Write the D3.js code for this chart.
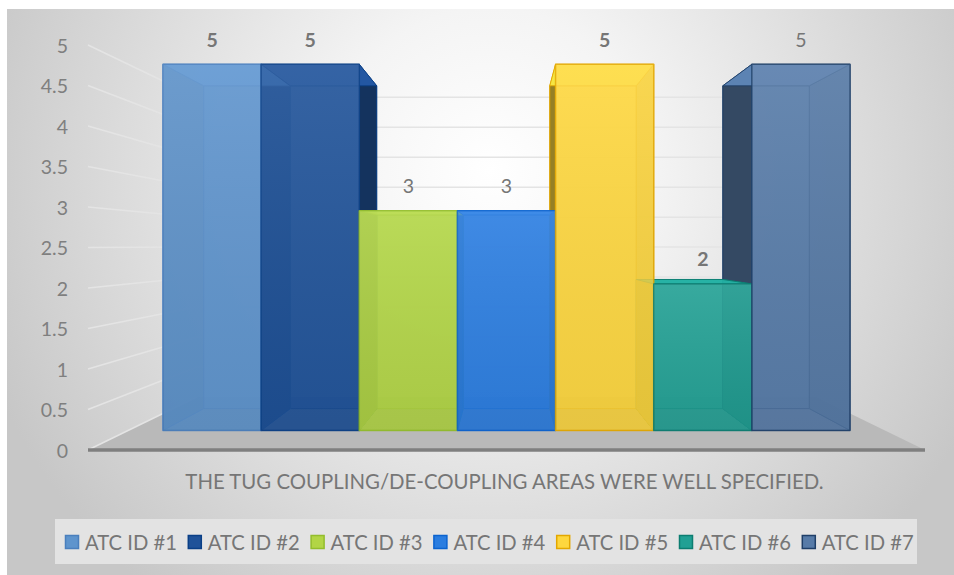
<!DOCTYPE html>
<html>
<head>
<meta charset="utf-8">
<script src="https://cdn.jsdelivr.net/npm/d3@7/dist/d3.min.js"></script>
<style>
  html, body { margin: 0; padding: 0; background: #ffffff; }
  svg { display: block; }
</style>
</head>
<body>
<svg id="chart" width="954" height="575"></svg>
<script>
// ---- data ----
const categories = ["ATC ID #1", "ATC ID #2", "ATC ID #3", "ATC ID #4", "ATC ID #5", "ATC ID #6", "ATC ID #7"];
const values = [5, 5, 3, 3, 5, 2, 5];
const labelBold = [true, true, false, false, true, true, false];
const colors = ["#5e94cd", "#1f5299", "#b2d545", "#2a7de0", "#fed73e", "#21a094", "#577ba8"];
const borders = ["#4a7fbd", "#0a3f86", "#93bd2c", "#0b63cf", "#e3a700", "#0c7d71", "#1f3f68"];
const yTicks = [0, 0.5, 1, 1.5, 2, 2.5, 3, 3.5, 4, 4.5, 5];
const axisTitle = "THE TUG COUPLING/DE-COUPLING AREAS WERE WELL SPECIFIED.";

// ---- layout / projection ----
const svg = d3.select("#chart");
const W = 954, H = 575;
const vx = 506.5, vy = 246;          // vanishing point
const sFront = 0.904, sBack = 0.797, sWall = 0.74;
const wallL = 88, wallR = 925;
const P = (x, y, s) => [vx + (x - vx) * s, vy + (y - vy) * s];

const x = d3.scaleBand().domain(categories).range([126.5, 886.5]).padding(0);
const y = d3.scaleLinear().domain([0, 5]).range([450, 45]);

const font = "Lato, 'Open Sans', sans-serif";
const defs = svg.append("defs");
const rg = defs.append("radialGradient").attr("id", "bg")
  .attr("gradientUnits", "userSpaceOnUse")
  .attr("cx", 490).attr("cy", 170).attr("r", 540);
rg.append("stop").attr("offset", "0").attr("stop-color", "#ffffff");
rg.append("stop").attr("offset", "0.3").attr("stop-color", "#f4f4f4");
rg.append("stop").attr("offset", "1").attr("stop-color", "#c7c7c7");

const fg = defs.append("linearGradient").attr("id", "frontShade")
  .attr("x1", 0).attr("y1", 0).attr("x2", 0).attr("y2", 1);
fg.append("stop").attr("offset", "0").attr("stop-color", "#ffffff").attr("stop-opacity", 0.08);
fg.append("stop").attr("offset", "1").attr("stop-color", "#000000").attr("stop-opacity", 0.06);

// background
svg.append("rect").attr("x", 7).attr("y", 9).attr("width", W - 7).attr("height", H - 9)
  .attr("fill", "url(#bg)");

const line = d3.line();
const poly = pts => "M" + pts.map(p => p.join(",")).join("L") + "Z";

// floor
svg.append("path")
  .attr("d", poly([P(wallL, y(0), 1), P(wallR, y(0), 1), P(wallR, y(0), sWall), P(wallL, y(0), sWall)]))
  .attr("fill", "#b9b9b9");

// gridlines (left wall + back wall)
const grid = svg.append("g").attr("stroke", "#e4e4e4").attr("stroke-width", 1.5).attr("fill", "none");
yTicks.forEach(v => {
  grid.append("path").attr("d", line([P(wallL, y(v), 1), P(wallL, y(v), sWall)]));
  if (v > 0) grid.append("path").attr("d", line([P(wallL, y(v), sWall), P(wallR, y(v), sWall)]));
});

// floor front edge
svg.append("path").attr("d", line([P(wallL, y(0), 1), P(wallR, y(0), 1)]))
  .attr("stroke", "#7f7f7f").attr("stroke-width", 3.5).attr("fill", "none");

// y axis labels
svg.append("g").selectAll("text").data(yTicks).join("text")
  .attr("x", 68).attr("y", d => y(d))
  .attr("text-anchor", "end").attr("dominant-baseline", "central")
  .attr("font-family", font).attr("font-size", 19.5).attr("fill", "#7f7f7f")
  .text(d => d3.format("")(d));

// ---- bars ----
const bars = categories.map((c, i) => {
  const x0 = x(c), x1 = x(c) + x.bandwidth();
  const yt = y(values[i]), yb = y(0);
  const cx = (x0 + x1) / 2;
  return { i, x0, x1, yt, yb, center: cx, color: colors[i], border: borders[i] };
});
const faceFront = b => [P(b.x0, b.yt, sFront), P(b.x1, b.yt, sFront), P(b.x1, b.yb, sFront), P(b.x0, b.yb, sFront)];
const faceBack = b => [P(b.x0, b.yt, sBack), P(b.x1, b.yt, sBack), P(b.x1, b.yb, sBack), P(b.x0, b.yb, sBack)];
const faceSide = (b, xx) => [P(xx, b.yt, sFront), P(xx, b.yt, sBack), P(xx, b.yb, sBack), P(xx, b.yb, sFront)];
const faceH = (b, yy) => [P(b.x0, yy, sFront), P(b.x1, yy, sFront), P(b.x1, yy, sBack), P(b.x0, yy, sBack)];

const gBars = svg.append("g");
function face(pts, fill, op, stroke, sw) {
  gBars.append("path").attr("d", poly(pts)).attr("fill", fill).attr("fill-opacity", op)
    .attr("stroke", stroke).attr("stroke-width", sw).attr("stroke-opacity", 0.85).attr("stroke-linejoin", "round");
}
// back faces
bars.forEach(b => face(faceBack(b), b.color, 0.85, b.border, 1));
// bottoms
bars.forEach(b => face(faceH(b, b.yb), d3.color(b.color).darker(0.3), 0.6, b.border, 1));
// exterior sides (face the viewer centre)
bars.forEach(b => {
  if (b.center < vx - 1) face(faceSide(b, b.x1), d3.color(b.color).darker(1.5), 0.95, b.border, 1);
  else if (b.center > vx + 1) face(faceSide(b, b.x0), d3.color(b.color).darker(1.6), 0.95, b.border, 1);
});
// interior sides (seen through the front face)
bars.forEach(b => {
  if (b.center < vx - 1) face(faceSide(b, b.x0), d3.color(b.color).darker(0.4), 0.85, b.border, 1);
  else if (b.center > vx + 1) face(faceSide(b, b.x1), d3.color(b.color).darker(0.4), 0.85, b.border, 1);
  else { face(faceSide(b, b.x0), d3.color(b.color).darker(0.4), 0.85, b.border, 1);
         face(faceSide(b, b.x1), d3.color(b.color).darker(0.4), 0.85, b.border, 1); }
});
// tops
bars.forEach(b => face(faceH(b, b.yt), d3.color(b.color).brighter(0.3), 0.9, b.border, 1));
// fronts
bars.forEach(b => {
  face(faceFront(b), b.color, 0.82, b.border, 1.5);
  gBars.append("path").attr("d", poly(faceFront(b))).attr("fill", "url(#frontShade)");
});

// data labels
svg.append("g").selectAll("text").data(bars).join("text")
  .attr("x", b => P(b.center, b.yt, sFront)[0])
  .attr("y", b => P(b.center, b.yt, sFront)[1] - 25)
  .attr("text-anchor", "middle").attr("dominant-baseline", "central")
  .attr("font-family", font).attr("font-size", 19.5)
  .attr("font-weight", b => labelBold[b.i] ? "bold" : "normal")
  .attr("fill", "#767676")
  .text(b => values[b.i]);

// axis title
const t = svg.append("text").attr("x", 504.5).attr("y", 481)
  .attr("text-anchor", "middle").attr("dominant-baseline", "central")
  .attr("font-family", font).attr("font-size", 17).attr("fill", "#767676")
  .text(axisTitle);
const tw = t.node().getComputedTextLength();
if (tw > 0) t.attr("font-size", 17 * 639 / tw);

// legend
svg.append("rect").attr("x", 55).attr("y", 519).attr("width", 862).attr("height", 45).attr("fill", "#e3e3e3");
const leg = svg.append("g").selectAll("g").data(categories).join("g")
  .attr("transform", (d, i) => `translate(${65.5 + i * 122.8},535.5)`);
leg.append("rect").attr("width", 13).attr("height", 13)
  .attr("fill", (d, i) => colors[i]).attr("stroke", (d, i) => borders[i]).attr("stroke-width", 1.5);
const legText = leg.append("text").attr("x", 19.5).attr("y", 6.5).attr("dominant-baseline", "central")
  .attr("font-family", font).attr("font-size", 18).attr("fill", "#767676")
  .text(d => d);
const lw = legText.nodes()[0].getComputedTextLength();
if (lw > 0) legText.attr("font-size", 18 * 92 / lw);
</script>
</body>
</html>
